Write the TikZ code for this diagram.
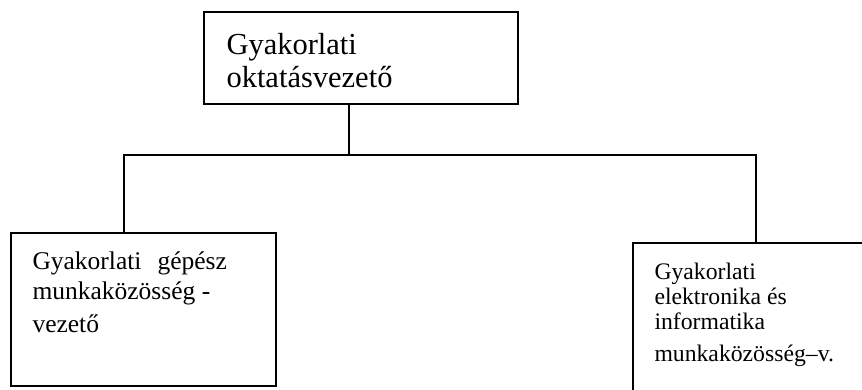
\documentclass[tikz,border=0pt]{standalone}
\usepackage{fontspec}
\setmainfont{Liberation Serif}
\usetikzlibrary{positioning}
\begin{document}
\begin{tikzpicture}[x=1pt,y=-1pt]

        % stílusok
        \tikzstyle{doboz} = [rectangle, draw=black, line width=1.4pt, inner sep=0pt]
        \tikzstyle{felirat} = [anchor=base west, align=left, inner sep=0pt]
        \tikzstyle{vonal} = [line width=1.1pt]

        \useasboundingbox (0,0) rectangle (862,390);
        \clip (0,0) rectangle (862,390);

        % csomópontok
        \node (chief) [doboz, minimum width=314pt, minimum height=92pt] at (361,58) {};
        \node (gepesz) [doboz, minimum width=265pt, minimum height=153pt] at (143.5,309.5) {};
        \node (elektro) [doboz, minimum width=267pt, minimum height=197pt] at (766.5,341.5) {};

        % a szöveg alapvonala az utolsó sorhoz igazodik
        \node (chieftxt) [felirat, font=\fontsize{30.5}{33}\selectfont] at ([shift={(23,76)}]chief.north west)
            {Gyakorlati\\oktatásvezető};
        \node (gepesztxt) [felirat, font=\fontsize{25.5}{30}\selectfont] at ([shift={(22,100)}]gepesz.north west)
            {Gyakorlati\hskip 16pt gépész\\munkaközösség -\\[3pt]vezető};
        \node (elektrotxt) [felirat, font=\fontsize{23.7}{25}\selectfont] at ([shift={(22,119)}]elektro.north west)
            {Gyakorlati\\elektronika és\\informatika\\[7pt]munkaközösség–v.};

        % összekötések
        \coordinate (fork) at (349,155);
        \coordinate (lfork) at (124,155);
        \coordinate (rfork) at (756,155);
        \draw [vonal] (chief.south -| fork) -- (fork);
        \draw [vonal] (gepesz.north -| lfork) -- (lfork) -- (rfork) -- (elektro.north -| rfork);

\end{tikzpicture}
\end{document}
